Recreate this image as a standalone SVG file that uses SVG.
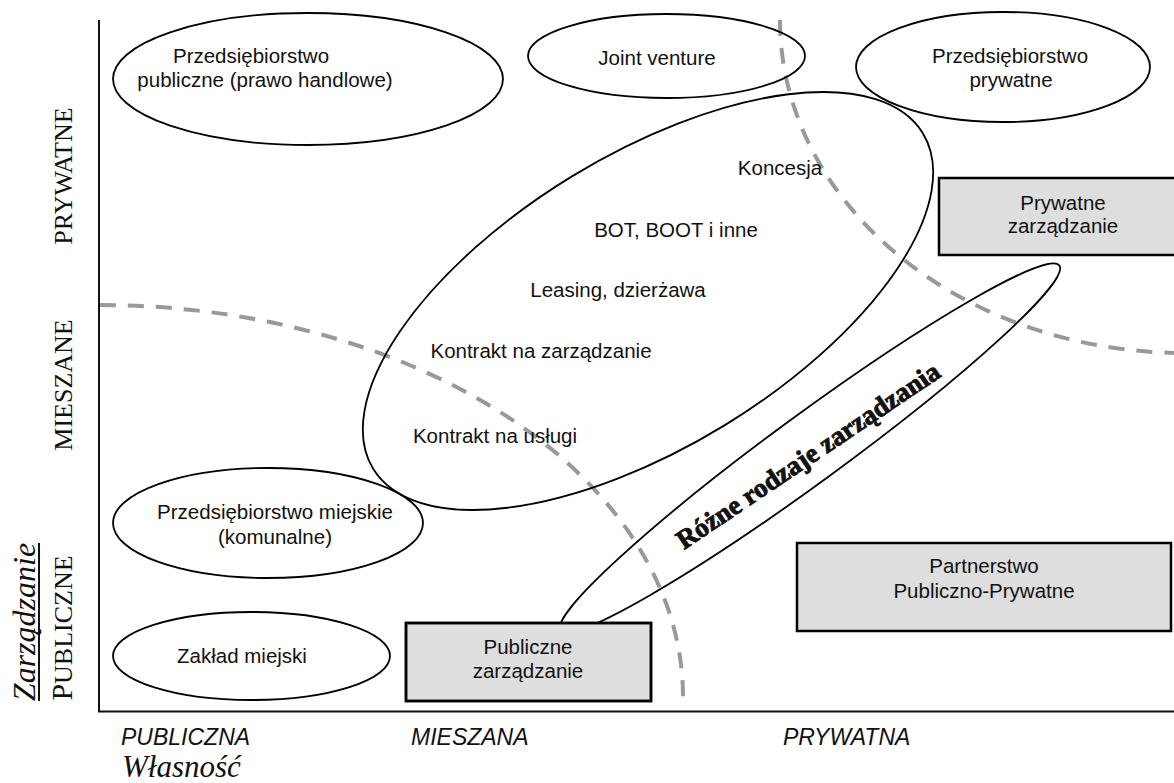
<svg xmlns="http://www.w3.org/2000/svg" width="1174" height="783" viewBox="0 0 1174 783">
<style>
.bg{fill:#fff}
.ell{fill:none;stroke:#000;stroke-width:1.8}
.box{fill:#dedede;stroke:#000;stroke-width:2.5}
.t{font-family:"Liberation Sans",Arial,sans-serif;font-size:20.5px;fill:#111;text-anchor:middle}
.ax{font-family:"Liberation Sans",Arial,sans-serif;font-size:23px;font-style:italic;fill:#111}
.ser{font-family:"Liberation Serif","Times New Roman",serif;fill:#111}
.dash{fill:none;stroke:#999;stroke-width:4;stroke-dasharray:16 12}
.axis{fill:none;stroke:#111;stroke-width:2}
</style>
<defs>
<clipPath id="pubclip"><rect x="406" y="623" width="245" height="78"/></clipPath>
</defs>
<rect class="bg" x="0" y="0" width="1174" height="783"/>

<g id="axes">
<line class="axis" x1="99" y1="20" x2="99" y2="712"/>
<line class="axis" x1="98" y1="711.5" x2="1174" y2="711.5"/>
<text class="ser" font-size="26" text-anchor="middle" transform="translate(72,176) rotate(-90)">PRYWATNE</text>
<text class="ser" font-size="26" text-anchor="middle" transform="translate(72,385) rotate(-90)">MIESZANE</text>
<text class="ser" font-size="26" text-anchor="middle" transform="translate(72,628) rotate(-90)"><tspan font-size="30">P</tspan>UBLICZNE</text>
<text class="ser" font-size="32" font-style="italic" text-anchor="middle" transform="translate(35,622) rotate(-90)">Zarządzanie</text>
<line x1="39" y1="543" x2="39" y2="701" stroke="#111" stroke-width="2"/>
<text class="ax" x="121" y="745">PUBLICZNA</text>
<text class="ax" x="411" y="745">MIESZANA</text>
<text class="ax" x="783" y="745">PRYWATNA</text>
<text class="ser" font-size="31" font-style="italic" x="122" y="777">Własność</text>
</g>

<g id="connectors">
<path class="dash" d="M 100 305 A 584 392 0 0 1 683 697"/>
<path class="dash" d="M 780 20 A 405 333 0 0 0 1185 353"/>
</g>

<g id="node-przeds-publiczne">
<ellipse class="ell" cx="308" cy="79" rx="195" ry="66"/>
<text class="t" x="251" y="63">Przedsiębiorstwo</text>
<text class="t" x="265" y="87">publiczne (prawo handlowe)</text>
</g>

<g id="node-joint-venture">
<ellipse class="ell" cx="666.5" cy="56" rx="138.5" ry="42"/>
<text class="t" x="657" y="65">Joint venture</text>
</g>

<g id="node-przeds-prywatne">
<ellipse class="ell" cx="1003" cy="67" rx="147" ry="55"/>
<text class="t" x="1010" y="63">Przedsiębiorstwo</text>
<text class="t" x="1011" y="87">prywatne</text>
</g>

<g id="node-formy-ppp">
<ellipse class="ell" cx="648" cy="301" rx="322" ry="146" transform="rotate(-31.4 648 301)"/>
<text class="t" x="780" y="175" font-size="21">Koncesja</text>
<text class="t" x="676" y="237" font-size="21.5">BOT, BOOT i inne</text>
<text class="t" x="618" y="297" font-size="17.5">Leasing, dzierżawa</text>
<text class="t" x="541" y="358" font-size="17.5">Kontrakt na zarządzanie</text>
<text class="t" x="495" y="443" font-size="20.5">Kontrakt na usługi</text>
</g>

<g id="node-przeds-miejskie">
<ellipse class="ell" cx="268" cy="523" rx="155" ry="55"/>
<text class="t" x="275" y="519">Przedsiębiorstwo miejskie</text>
<text class="t" x="275" y="544">(komunalne)</text>
</g>

<g id="node-zaklad-miejski">
<ellipse class="ell" cx="251.5" cy="656" rx="138.5" ry="44"/>
<text class="t" x="242" y="663">Zakład miejski</text>
</g>

<g id="node-rozne-rodzaje">
<ellipse class="ell" cx="810" cy="448" rx="309" ry="34" transform="rotate(-36.2 810 448)"/>
<text class="ser" font-size="27" font-weight="bold" text-anchor="middle" stroke="#111" stroke-width="0.9" transform="translate(813,463) rotate(-34)">Różne rodzaje zarządzania</text>
</g>

<g id="node-publiczne-zarzadzanie">
<rect class="box" x="406" y="623" width="245" height="78"/>
<ellipse fill="none" stroke="#555" stroke-width="1.8" cx="810" cy="448" rx="309" ry="34" transform="rotate(-36.2 810 448)" clip-path="url(#pubclip)"/>
<rect x="406" y="623" width="245" height="78" fill="none" stroke="#000" stroke-width="2.5"/>
<text class="t" x="528" y="654">Publiczne</text>
<text class="t" x="528" y="678">zarządzanie</text>
</g>

<g id="node-prywatne-zarzadzanie">
<rect class="box" x="939" y="178" width="250" height="77"/>
<text class="t" x="1063" y="210">Prywatne</text>
<text class="t" x="1063" y="233">zarządzanie</text>
</g>

<g id="node-ppp">
<rect class="box" x="797" y="543" width="374" height="88"/>
<text class="t" x="984" y="573">Partnerstwo</text>
<text class="t" x="984" y="598">Publiczno-Prywatne</text>
</g>
</svg>
